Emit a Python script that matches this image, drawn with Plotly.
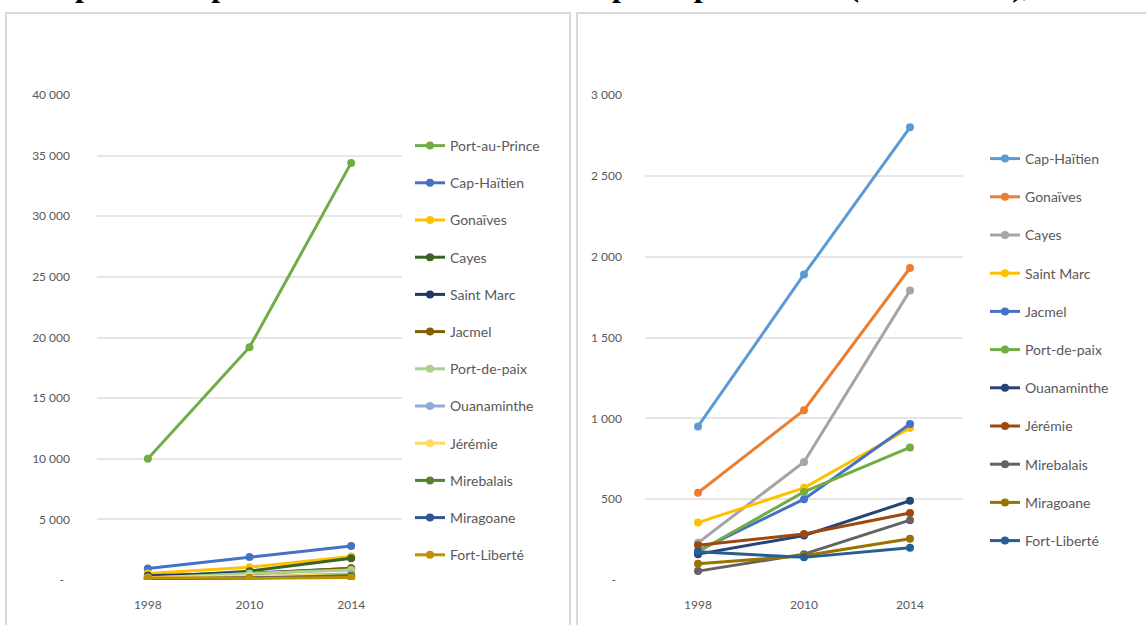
import plotly.graph_objects as go

W, H = 1146, 625

years = ["1998", "2010", "2014"]

# Left chart (all cities, hectares)
left_names = ["Port-au-Prince", "Cap-Haïtien", "Gonaïves", "Cayes", "Saint Marc", "Jacmel",
              "Port-de-paix", "Ouanaminthe", "Jérémie", "Mirebalais", "Miragoane", "Fort-Liberté"]
port_au_prince = [10000, 19200, 34400]
cap_haitien = [950, 1890, 2800]
gonaives = [540, 1050, 1930]
cayes = [230, 730, 1790]
saint_marc = [355, 570, 940]
jacmel = [180, 500, 965]
port_de_paix = [175, 545, 820]
ouanaminthe = [160, 275, 490]
jeremie = [215, 285, 415]
mirebalais = [55, 160, 370]
miragoane = [100, 150, 255]
fort_liberte = [175, 140, 200]

left_values = [port_au_prince, cap_haitien, gonaives, cayes, saint_marc, jacmel,
               port_de_paix, ouanaminthe, jeremie, mirebalais, miragoane, fort_liberte]
left_colors = ["#70AD47", "#4472C4", "#FFC000", "#3B6424", "#203864", "#7F6000",
               "#A9D18E", "#8FAADC", "#FFD966", "#548235", "#2F5597", "#BF9000"]

# Right chart (without Port-au-Prince)
right_names = left_names[1:]
right_values = left_values[1:]
right_colors = ["#5B9BD5", "#ED7D31", "#A5A5A5", "#FFC000", "#4472C4", "#70AD47",
                "#264478", "#9E480E", "#636363", "#997300", "#255E91"]

left_ticks = [0, 5000, 10000, 15000, 20000, 25000, 30000, 35000, 40000]
left_ticktext = ["-\u00a0\u00a0", "5 000", "10 000", "15 000", "20 000", "25 000", "30 000", "35 000", "40 000"]
right_ticks = [0, 500, 1000, 1500, 2000, 2500, 3000]
right_ticktext = ["-\u00a0\u00a0", "500", "1 000", "1 500", "2 000", "2 500", "3 000"]

title_text = "Graphe 4 : Superficie du milieu urbain des principales villes (en hectares), 1998-2014"

FONT = "Lato"
GRAY = "#595959"

fig = go.Figure()

for name, vals, col in zip(left_names, left_values, left_colors):
    fig.add_trace(go.Scatter(x=years, y=vals, name=name, mode="lines+markers",
                             line=dict(color=col, width=3), marker=dict(color=col, size=8),
                             xaxis="x", yaxis="y", legend="legend", legendgroup="L" + name))

for name, vals, col in zip(right_names, right_values, right_colors):
    fig.add_trace(go.Scatter(x=years, y=vals, name=name, mode="lines+markers",
                             line=dict(color=col, width=3), marker=dict(color=col, size=8),
                             xaxis="x2", yaxis="y2", legend="legend2", legendgroup="R" + name))

def px_x(p):
    return p / W

def px_y(p):
    return 1 - p / H

axis_font = dict(family=FONT, size=12, color=GRAY)
legend_font = dict(family=FONT, size=14, color=GRAY)

fig.update_layout(
    width=W, height=H,
    margin=dict(l=0, r=0, t=0, b=0),
    paper_bgcolor="white", plot_bgcolor="white",
    template="none",
    font=dict(family=FONT, color=GRAY),
    xaxis=dict(domain=[px_x(97), px_x(402)], type="category", range=[-0.5, 2.5],
               showgrid=False, showline=False,
               zeroline=False, ticks="", tickfont=axis_font, ticklabelstandoff=16, automargin=False,
               anchor="y"),
    yaxis=dict(domain=[px_y(580), px_y(95)], range=[0, 40000], tickvals=left_ticks,
               ticktext=left_ticktext, showgrid=True, gridcolor="#E6E6E6", gridwidth=1.5,
               zeroline=False, showline=False, ticks="", tickfont=axis_font,
               ticklabelstandoff=26, automargin=False, anchor="x"),
    xaxis2=dict(domain=[px_x(645), px_x(963)], type="category", range=[-0.5, 2.5],
                showgrid=False, showline=False,
                zeroline=False, ticks="", tickfont=axis_font, ticklabelstandoff=16, automargin=False,
                anchor="y2"),
    yaxis2=dict(domain=[px_y(580), px_y(95)], range=[0, 3000], tickvals=right_ticks,
                ticktext=right_ticktext, showgrid=True, gridcolor="#E6E6E6", gridwidth=1.5,
                zeroline=False, showline=False, ticks="", tickfont=axis_font,
                ticklabelstandoff=22, automargin=False, anchor="x2"),
    legend=dict(x=px_x(410), y=px_y(130), xanchor="left", yanchor="top",
                font=legend_font, tracegroupgap=16,
                itemwidth=30, bgcolor="rgba(0,0,0,0)"),
    legend2=dict(x=px_x(985), y=px_y(143), xanchor="left", yanchor="top",
                 font=legend_font, tracegroupgap=17,
                 itemwidth=30, bgcolor="rgba(0,0,0,0)"),
    showlegend=True,
)

# panel frames
fig.add_shape(type="rect", xref="paper", yref="paper", x0=px_x(6), x1=px_x(570),
              y0=px_y(640), y1=px_y(13), line=dict(color="#D9D9D9", width=2), layer="below")
fig.add_shape(type="rect", xref="paper", yref="paper", x0=px_x(577), x1=px_x(1150),
              y0=px_y(640), y1=px_y(13), line=dict(color="#D9D9D9", width=2), layer="below")

# title (its upper part is cut by the top of the page, as in the reference)
fig.add_annotation(text="<b>" + title_text + "</b>", xref="paper", yref="paper",
                   x=px_x(18), y=1, xanchor="left", yanchor="bottom", yshift=-5,
                   showarrow=False, font=dict(family="Liberation Serif", size=32, color="black"))

fig.write_html("out.html")
